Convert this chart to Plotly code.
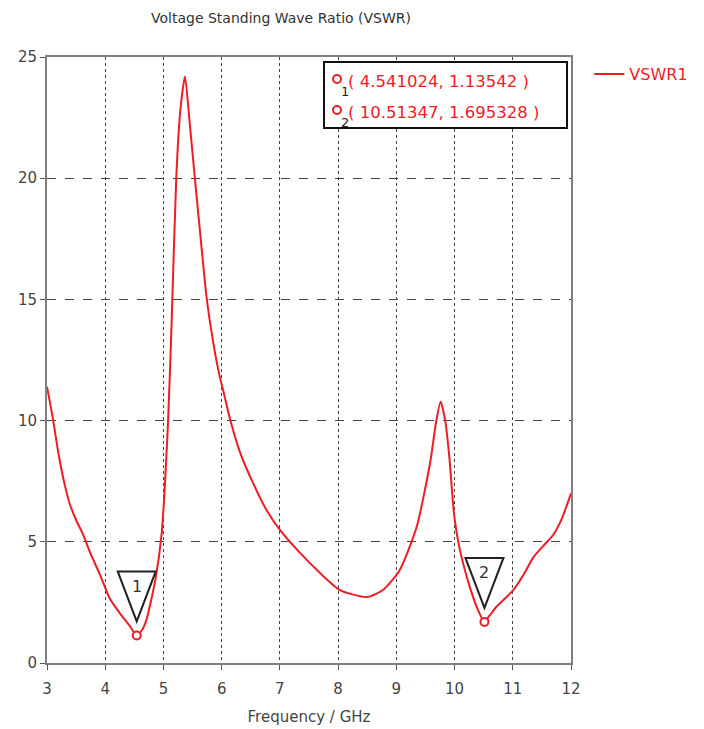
import plotly.graph_objects as go

# ---- data ----
freq = [3.0, 3.1, 3.2, 3.3, 3.4, 3.5, 3.62, 3.75, 3.9, 4.08, 4.25, 4.43, 4.54, 4.63,
        4.71, 4.86, 4.97, 5.08, 5.14, 5.22, 5.29, 5.37, 5.45, 5.54, 5.64, 5.74, 5.85,
        5.95, 6.05, 6.14, 6.32, 6.54, 6.77, 7.0, 7.35, 7.69, 8.03, 8.49, 8.77, 9.06,
        9.35, 9.58, 9.68, 9.76, 9.84, 9.91, 9.99, 10.08, 10.26, 10.4, 10.51, 10.6,
        10.72, 11.01, 11.2, 11.35, 11.55, 11.7, 11.85, 12.0]
vswr = [11.4, 10.1, 8.6, 7.4, 6.5, 5.9, 5.3, 4.5, 3.7, 2.65, 2.06, 1.5, 1.14, 1.35,
        1.8, 3.42, 5.36, 10.0, 14.0, 20.0, 22.8, 24.2, 22.3, 20.0, 17.5, 15.1, 13.3,
        12.0, 11.0, 10.1, 8.66, 7.42, 6.31, 5.49, 4.53, 3.71, 3.01, 2.72, 3.01, 3.84,
        5.62, 8.25, 9.9, 10.78, 10.0, 8.5, 6.17, 4.8, 3.15, 2.2, 1.70, 1.95,
        2.32, 3.01, 3.7, 4.35, 4.9, 5.3, 6.0, 7.0]

marker_ids = ["1", "2"]
marker_freq = [4.541024, 10.51347]
marker_vswr = [1.13542, 1.695328]

x_ticks = [3, 4, 5, 6, 7, 8, 9, 10, 11, 12]
y_ticks = [0, 5, 10, 15, 20, 25]

RED = "#ee1c25"
FONT = "DejaVu Sans"

# plot-area geometry (pixels) for paper conversions
W, H = 704, 729
L, R, T, B = 47, 133, 57, 66
PW, PH = W - L - R, H - T - B


def px(xp):
    return (xp - L) / PW


def py(yp):
    return (H - B - yp) / PH


fig = go.Figure()
fig.add_trace(go.Scatter(
    x=freq, y=vswr, mode="lines", name="VSWR1",
    line=dict(color=RED, width=2, shape="spline", smoothing=0.6),
))
fig.add_trace(go.Scatter(
    x=marker_freq, y=marker_vswr, mode="markers", showlegend=False,
    marker=dict(symbol="circle", size=8, color="white", line=dict(color=RED, width=2)),
))

shapes = []
annotations = []
# triangle marker flags
for mid, mx, my in zip(marker_ids, marker_freq, marker_vswr):
    shapes.append(dict(
        type="path", xref="x", yref="y", xsizemode="pixel", ysizemode="pixel",
        xanchor=mx, yanchor=my, path="M -19,64 L 19,64 L 0,14 Z",
        line=dict(color="#222222", width=2), fillcolor="rgba(0,0,0,0)", layer="above",
    ))
    annotations.append(dict(
        x=mx, y=my, xref="x", yref="y", text=mid, showarrow=False, yshift=49,
        font=dict(family=FONT, size=16, color="#333333"),
    ))

# marker readout box
shapes.append(dict(type="rect", xref="paper", yref="paper",
                   x0=px(324), x1=px(567), y0=py(128), y1=py(62),
                   line=dict(color="#111111", width=2), fillcolor="white", layer="above"))
row_y = [81, 112]
for i, (mid, mx, my) in enumerate(zip(marker_ids, marker_freq, marker_vswr)):
    yrow = row_y[i]
    shapes.append(dict(type="circle", xref="paper", yref="paper",
                       xsizemode="pixel", ysizemode="pixel",
                       xanchor=px(337), yanchor=py(yrow - 2),
                       x0=-4, x1=4, y0=-4, y1=4,
                       line=dict(color=RED, width=2), fillcolor="white", layer="above"))
    annotations.append(dict(x=px(339), y=py(yrow + 10), xref="paper", yref="paper",
                            text=mid, showarrow=False, xanchor="left", yanchor="middle",
                            font=dict(family=FONT, size=13, color="#222222")))
    annotations.append(dict(x=px(346), y=py(yrow), xref="paper", yref="paper",
                            text=f"( {mx}, {my} )", showarrow=False,
                            xanchor="left", yanchor="middle",
                            font=dict(family=FONT, size=16.5, color=RED)))

axis_common = dict(
    showline=True, linecolor="#7f7f7f", linewidth=2, mirror=True,
    ticks="outside", ticklen=5, tickcolor="#555555", tickwidth=1,
    showgrid=True, gridcolor="#444444", gridwidth=1,
    tickfont=dict(family=FONT, size=15, color="#444444"),
    zeroline=False, automargin=False,
)

fig.update_layout(
    width=W, height=H,
    margin=dict(l=L, r=R, t=T, b=B, autoexpand=False),
    paper_bgcolor="white", plot_bgcolor="white",
    title=dict(text="Voltage Standing Wave Ratio (VSWR)", x=281 / W, xanchor="center",
               xref="container", y=1 - 18 / H, yanchor="middle", yref="container",
               font=dict(family=FONT, size=14, color="#333333")),
    xaxis=dict(range=[3, 12], tickvals=x_ticks, griddash="dot", ticklabelstandoff=6,
               title=dict(text="Frequency / GHz", standoff=14,
                          font=dict(family=FONT, size=15, color="#444444")),
               **axis_common),
    yaxis=dict(range=[0, 25], tickvals=y_ticks, griddash="dash", **axis_common),
    legend=dict(x=1.035, y=1.0, xanchor="left", yanchor="top",
                font=dict(family=FONT, size=16, color=RED),
                bgcolor="rgba(0,0,0,0)"),
    shapes=shapes,
    annotations=annotations,
    showlegend=True,
)

fig.write_html("out.html")
